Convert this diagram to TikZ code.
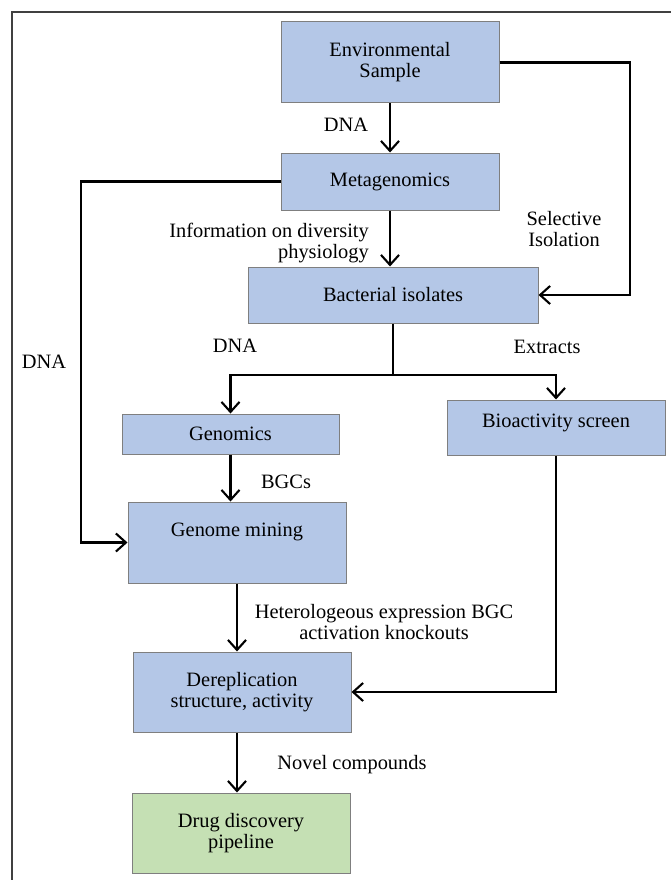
\documentclass[tikz,border=0pt]{standalone}
\usepackage{fontspec}
\setmainfont{Liberation Serif}
\usetikzlibrary{arrows.meta}
\definecolor{boxblue}{HTML}{B4C7E7}
\definecolor{boxgreen}{HTML}{C5E0B4}
\definecolor{boxline}{HTML}{7F7F7F}
\begin{document}
\begin{tikzpicture}[x=1pt,y=-1pt,
  box/.style={draw=boxline, line width=1pt, fill=boxblue, inner sep=0pt, align=center,
    minimum width=218pt, font=\fontsize{20.4}{21}\selectfont},
  lbl/.style={inner sep=0pt, align=center, font=\fontsize{20.4}{21}\selectfont},
  arr/.style={draw=black, line width=2.1pt, -{Straight Barb[length=10pt,width=18pt]}},
  conn/.style={draw=black, line width=2.1pt}]
\useasboundingbox (0,0) rectangle (671,880);
\draw[line width=1.4pt, draw=black!75] (12,12) rectangle (680,890);
% boxes
\node[box, minimum height=81pt] (env) at (390,62.5) {Environmental\\Sample};
\node[box, minimum height=57pt] (meta) at (390,181.5) {Metagenomics};
\node[box, minimum width=290pt, minimum height=56pt] (bact) at (393,295) {Bacterial isolates};
\node[box, minimum width=217pt, minimum height=40pt] (geno) at (230.5,434) {Genomics};
\node[box, minimum height=55pt, text height=14pt, text depth=15pt] (bio) at (556,427.5) {Bioactivity screen};
\node[box, minimum height=81pt, text height=14pt, text depth=27pt] (gm) at (237,542.5) {Genome mining};
\node[box, minimum height=80pt] (der) at (242,692) {Dereplication\\structure, activity};
\node[box, fill=boxgreen, minimum height=80pt] (drug) at (241,833) {Drug discovery\\pipeline};
% helper coordinates
\coordinate (rc) at (630,0);
\coordinate (lc) at (81,0);
\coordinate (sp) at (393,375);
% connectors
\draw[arr] (env.south) -- (meta.north);
\draw[arr] (env.east) -| (rc |- bact.east) -- (bact.east);
\draw[arr] (meta.west) -| (lc |- gm.west) -- (gm.west);
\draw[arr] (meta.south) -- (meta.south |- bact.north);
\draw[conn] (bact.south -| sp) -- (sp);
\draw[arr] (sp) -| (geno.north);
\draw[arr] (sp) -| (bio.north);
\draw[arr] (geno.south) -- (geno.south |- gm.north);
\draw[arr] (gm.south) -- (gm.south |- der.north);
\draw[arr] (bio.south) |- (der.east);
\draw[arr] (gm.south |- der.south) -- (gm.south |- drug.north);
% labels
\node[lbl] (l1) at (346,125) {DNA};
\node[lbl] (l2) at (564,229.5) {Selective\\Isolation};
\node[lbl, anchor=east, align=right] (l3) at (369,243) {Information on diversity\\physiology};
\node[lbl] (l4) at (44,362) {DNA};
\node[lbl] (l5) at (235,346) {DNA};
\node[lbl] (l6) at (547,347) {Extracts};
\node[lbl] (l7) at (286,482) {BGCs};
\node[lbl] (l8) at (384,622.5) {Heterologeous expression BGC\\activation knockouts};
\node[lbl] (l9) at (352,765) {Novel compounds};
\end{tikzpicture}
\end{document}
